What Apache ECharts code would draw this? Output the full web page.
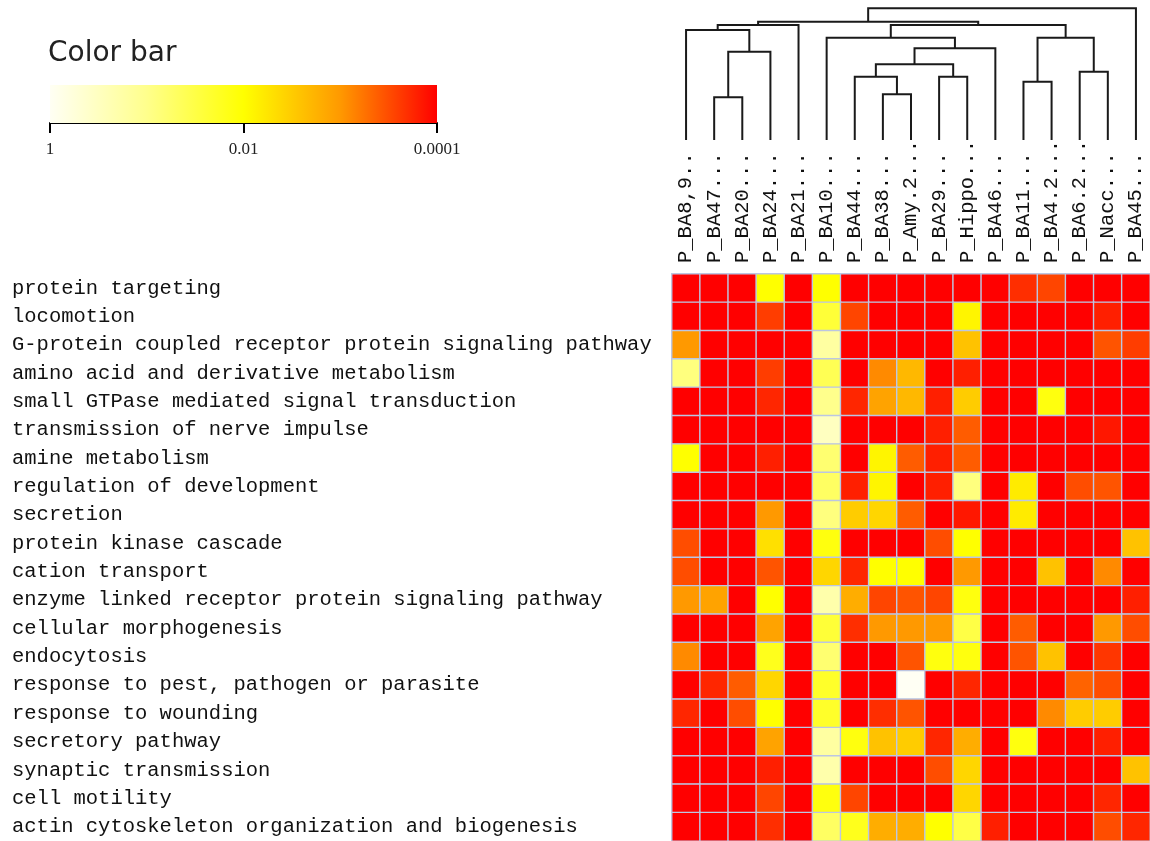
<!DOCTYPE html>
<html>
<head>
<meta charset="utf-8">
<title>GO term enrichment by brain region</title>
<script src="https://cdn.jsdelivr.net/npm/echarts@6/dist/echarts.min.js"></script>
<style>
  html, body { margin: 0; padding: 0; background: #fff; }
  #chart { width: 1150px; height: 841px; }
</style>
</head>
<body>
<div id="chart"></div>
<script>
// columns, already in dendrogram order
var regions = ['P_BA8,9..', 'P_BA47...', 'P_BA20...', 'P_BA24...', 'P_BA21...', 'P_BA10...',
  'P_BA44...', 'P_BA38...', 'P_Amy.2...', 'P_BA29...', 'P_Hippo...', 'P_BA46...',
  'P_BA11...', 'P_BA4.2...', 'P_BA6.2...', 'P_Nacc...', 'P_BA45...']

var terms = [
  'protein targeting',
  'locomotion',
  'G-protein coupled receptor protein signaling pathway',
  'amino acid and derivative metabolism',
  'small GTPase mediated signal transduction',
  'transmission of nerve impulse',
  'amine metabolism',
  'regulation of development',
  'secretion',
  'protein kinase cascade',
  'cation transport',
  'enzyme linked receptor protein signaling pathway',
  'cellular morphogenesis',
  'endocytosis',
  'response to pest, pathogen or parasite',
  'response to wounding',
  'secretory pathway',
  'synaptic transmission',
  'cell motility',
  'actin cytoskeleton organization and biogenesis'
]

// -log10(p), one row per term, one value per region (4 = p 0.0001 or smaller)
var scores = [
  [4, 4, 4, 2.0, 4, 2.0, 4, 4, 4, 4, 4, 4, 3.7, 3.55, 4, 4, 4],
  [4, 4, 4, 3.6, 4, 1.6, 3.55, 4, 4, 4, 2.1, 4, 4, 4, 4, 3.8, 4],
  [3.0, 4, 4, 4, 4, 0.8, 4, 4, 4, 4, 2.6, 4, 4, 4, 4, 3.45, 3.6],
  [1.1, 4, 4, 3.6, 4, 1.4, 4, 3.1, 2.7, 4, 3.8, 4, 4, 4, 4, 4, 4],
  [4, 4, 4, 3.75, 4, 1.0, 3.75, 2.9, 2.7, 3.8, 2.5, 4, 4, 1.9, 4, 4, 4],
  [4, 4, 4, 4, 4, 0.5, 4, 4, 4, 3.8, 3.4, 4, 4, 4, 4, 3.85, 4],
  [2.0, 4, 4, 3.8, 4, 1.2, 4, 2.1, 3.4, 3.8, 3.4, 4, 4, 4, 4, 4, 4],
  [4, 4, 4, 4, 4, 1.3, 3.8, 2.1, 4, 3.8, 1.1, 4, 2.2, 4, 3.5, 3.45, 4],
  [4, 4, 4, 3.0, 4, 1.1, 2.5, 2.4, 3.4, 4, 3.85, 4, 2.2, 4, 4, 4, 4],
  [3.5, 4, 4, 2.3, 4, 1.9, 4, 4, 4, 3.5, 2.0, 4, 4, 4, 4, 4, 2.6],
  [3.5, 4, 4, 3.45, 4, 2.4, 3.75, 2.0, 2.0, 4, 3.0, 4, 4, 2.6, 4, 3.1, 4],
  [3.0, 2.9, 4, 2.0, 4, 0.7, 2.8, 3.55, 3.45, 3.55, 1.9, 4, 4, 4, 4, 4, 3.8],
  [4, 4, 4, 2.9, 4, 1.6, 3.7, 3.0, 3.0, 3.0, 1.5, 4, 3.4, 4, 4, 3.0, 3.5],
  [3.1, 4, 4, 1.8, 4, 1.2, 4, 4, 3.45, 1.9, 1.9, 4, 3.45, 2.6, 4, 3.65, 4],
  [4, 3.75, 3.4, 2.4, 4, 1.7, 4, 4, 0, 4, 3.75, 4, 4, 4, 3.35, 3.5, 4],
  [3.75, 4, 3.5, 2.0, 4, 1.7, 4, 3.7, 3.45, 4, 4, 4, 4, 3.1, 2.5, 2.5, 4],
  [4, 4, 4, 2.9, 4, 0.8, 1.9, 2.6, 2.5, 3.75, 2.8, 4, 1.9, 4, 4, 3.8, 4],
  [4, 4, 4, 3.8, 4, 0.7, 4, 4, 4, 3.5, 2.4, 4, 4, 4, 4, 4, 2.6],
  [4, 4, 4, 3.55, 4, 1.9, 3.55, 4, 4, 4, 2.4, 4, 4, 4, 4, 3.75, 4],
  [4, 4, 4, 3.7, 4, 1.3, 1.8, 2.8, 2.8, 2.0, 1.5, 3.8, 4, 4, 4, 3.5, 3.75]
]

// dendrogram joins: [left node, right node, height]; leaves are 0..16, joins become 17, 18, ...
var merges = [
  [1, 2, 42.7],
  [17, 3, 88.3],
  [0, 18, 110],
  [19, 4, 115],
  [7, 8, 45.7],
  [6, 21, 63.3],
  [9, 10, 63.3],
  [22, 23, 75.7],
  [24, 11, 91.7],
  [5, 25, 102.3],
  [12, 13, 58.3],
  [14, 15, 68.3],
  [27, 28, 102.3],
  [26, 29, 115],
  [20, 30, 118.3],
  [31, 16, 131.7]
]

var colorbarValues = [0, 2, 4]
var colorbarLabels = ['1', '0.01', '0.0001']
var palette = ['#fffff4', '#ffff8c', '#ffff00', '#ff9900', '#ff0000']

var monoFont = "'Courier New', 'Liberation Mono', monospace"

// heatmap cells
var cells = []
for (var i = 0; i < terms.length; i++) {
  for (var j = 0; j < regions.length; j++) {
    cells.push([j, i, scores[i][j]])
  }
}

// dendrogram links: x of a join is the midpoint of its two children
var nodeX = []
var nodeH = []
for (var k = 0; k < regions.length; k++) {
  nodeX.push(k)
  nodeH.push(0)
}
var links = []
merges.forEach(function(m) {
  var a = m[0]
  var b = m[1]
  links.push([nodeX[a], nodeH[a], nodeX[b], nodeH[b], m[2]])
  nodeX.push((nodeX[a] + nodeX[b]) / 2)
  nodeH.push(m[2])
})

var chart = echarts.init(document.getElementById('chart'))

chart.setOption({
  animation: false,
  backgroundColor: '#fff',
  title: {
    text: 'Color bar',
    left: 48,
    top: 40,
    padding: 0,
    textStyle: {
      fontFamily: "'DejaVu Sans', sans-serif",
      fontSize: 28,
      fontWeight: 'normal',
      color: '#222'
    }
  },
  grid: [
    // heatmap
    { left: 672, top: 274, width: 482, height: 567 },
    // dendrogram
    { left: 672, top: 8, width: 482, height: 132 },
    // color bar
    { left: 50, top: 85, width: 387, height: 38 }
  ],
  xAxis: [
    {
      gridIndex: 0,
      type: 'category',
      data: regions,
      position: 'top',
      axisLine: { show: false },
      axisTick: { show: false },
      splitLine: { show: false },
      axisLabel: {
        rotate: -90,
        interval: 0,
        margin: 11,
        fontFamily: monoFont,
        fontSize: 20.5,
        color: '#111'
      }
    },
    {
      gridIndex: 1,
      type: 'value',
      min: -0.5,
      max: regions.length - 0.5,
      show: false
    },
    {
      gridIndex: 2,
      type: 'value',
      min: 0,
      max: 4,
      interval: 2,
      position: 'bottom',
      offset: 5,
      axisLine: { lineStyle: { color: '#000', width: 2 } },
      axisTick: { length: 10, lineStyle: { color: '#000', width: 2 } },
      splitLine: { show: false },
      axisLabel: {
        margin: 13,
        showMinLabel: true,
        showMaxLabel: true,
        fontFamily: "'Liberation Serif', 'DejaVu Serif', serif",
        fontSize: 17,
        color: '#222',
        formatter: function(v) {
          return colorbarLabels[colorbarValues.indexOf(v)]
        }
      }
    }
  ],
  yAxis: [
    {
      gridIndex: 0,
      type: 'category',
      data: terms,
      inverse: true,
      axisLine: { show: false },
      axisTick: { show: false },
      splitLine: { show: false },
      axisLabel: {
        interval: 0,
        align: 'left',
        margin: 660,
        fontFamily: monoFont,
        fontSize: 20.5,
        color: '#111'
      }
    },
    { gridIndex: 1, type: 'value', min: 0, max: 132, show: false },
    { gridIndex: 2, type: 'value', min: 0, max: 1, show: false }
  ],
  visualMap: {
    show: false,
    type: 'continuous',
    seriesIndex: 0,
    min: 0,
    max: 4,
    inRange: { color: palette }
  },
  series: [
    {
      type: 'heatmap',
      xAxisIndex: 0,
      yAxisIndex: 0,
      data: cells,
      itemStyle: {
        borderColor: '#bcc6e2',
        borderWidth: 1.4
      },
      emphasis: { disabled: true }
    },
    {
      type: 'custom',
      xAxisIndex: 1,
      yAxisIndex: 1,
      silent: true,
      clip: false,
      data: links,
      encode: { x: [0, 2], y: [1, 3, 4] },
      renderItem: function(params, api) {
        var p1 = api.coord([api.value(0), api.value(1)])
        var p1t = api.coord([api.value(0), api.value(4)])
        var p2t = api.coord([api.value(2), api.value(4)])
        var p2 = api.coord([api.value(2), api.value(3)])
        return {
          type: 'polyline',
          shape: { points: [p1, p1t, p2t, p2] },
          style: { stroke: '#1a1a1a', lineWidth: 2, fill: null }
        }
      }
    },
    {
      type: 'custom',
      xAxisIndex: 2,
      yAxisIndex: 2,
      silent: true,
      data: [[colorbarValues[0], colorbarValues[colorbarValues.length - 1]]],
      renderItem: function(params, api) {
        var a = api.coord([api.value(0), 0])
        var b = api.coord([api.value(1), 1])
        var stops = palette.map(function(c, idx) {
          return { offset: idx / (palette.length - 1), color: c }
        })
        return {
          type: 'rect',
          shape: { x: a[0], y: b[1], width: b[0] - a[0], height: a[1] - b[1] },
          style: { fill: new echarts.graphic.LinearGradient(0, 0, 1, 0, stops) }
        }
      }
    }
  ]
})
</script>
</body>
</html>
